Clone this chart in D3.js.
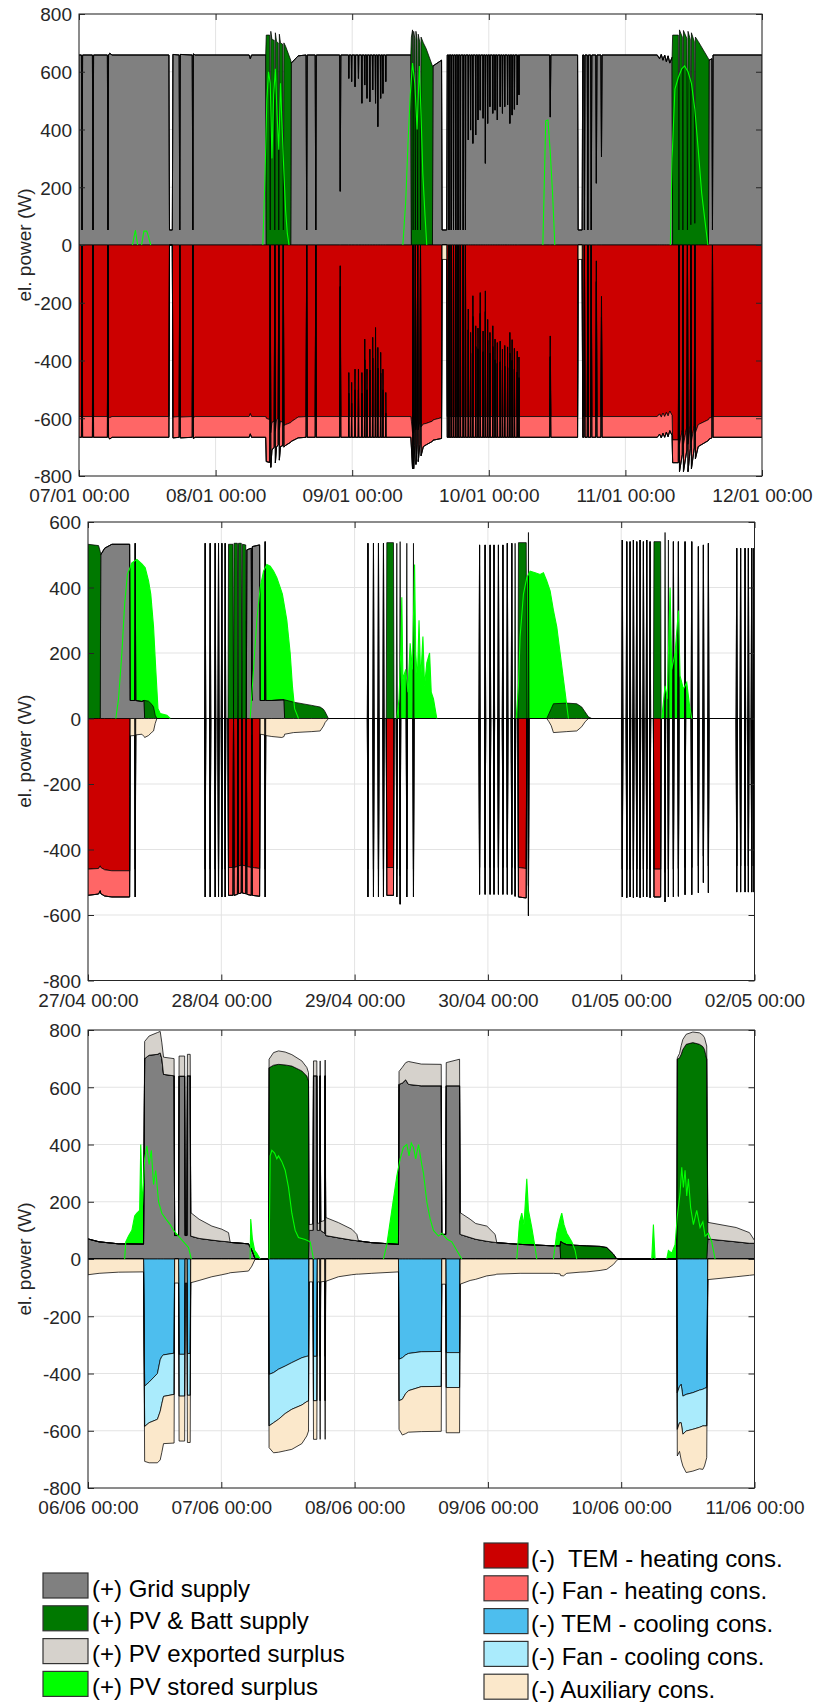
<!DOCTYPE html>
<html>
<head>
<meta charset="utf-8">
<script src="https://cdn.jsdelivr.net/npm/d3@7"></script>
<style>
  body { margin: 0; background: #fff; }
  text { font-family: "Liberation Sans", Arial, sans-serif; }
</style>
</head>
<body>
<svg id="chart" width="814" height="1702"></svg>
<script>
// ---- data (hours from first tick, watts) ----
const dayTicks = [0, 24, 48, 72, 96, 120];
const p1XLabels = ['07/01 00:00', '08/01 00:00', '09/01 00:00', '10/01 00:00', '11/01 00:00', '12/01 00:00'];
const p2XLabels = ['27/04 00:00', '28/04 00:00', '29/04 00:00', '30/04 00:00', '01/05 00:00', '02/05 00:00'];
const p3XLabels = ['06/06 00:00', '07/06 00:00', '08/06 00:00', '09/06 00:00', '10/06 00:00', '11/06 00:00'];
const p1YTicks = [-800, -600, -400, -200, 0, 200, 400, 600, 800];
const p2YTicks = [-800, -600, -400, -200, 0, 200, 400, 600];
const p3YTicks = [-800, -600, -400, -200, 0, 200, 400, 600, 800];

// January: [hour, grid, pvBatt, temHeat, fanHeat, aux]
const p1Keys = ['grid', 'pvb', 'temH', 'fanH', 'aux'];
const p1Rows = [
  [0,658,0,594,72,0],
  [0.43,658,0,594,72,0],[0.53,52,0,0,0,0],[0.63,658,0,594,72,0],
  [2.36,658,0,594,72,0],[2.46,52,0,0,0,0],[2.56,658,0,594,72,0],
  [4.99,658,0,594,72,0],[5.09,52,0,0,0,0],[5.19,658,0,594,72,0],
  [5.4,664,0,598,74,0],[5.8,658,0,594,72,0],
  [15.8,658,0,594,72,0],[15.9,52,0,0,0,0],[16.4,52,0,0,0,0],[16.5,660,0,596,72,0],
  [17.6,658,0,594,72,0],[17.7,52,0,0,0,0],[17.8,660,0,596,72,0],
  [19.9,658,0,594,72,0],[20.0,52,0,0,0,0],[20.1,662,0,598,72,0],[20.4,658,0,594,72,0],
  [29.9,658,0,594,72,0],[30.1,645,0,584,70,0],[30.3,658,0,594,72,0],
  [32.8,658,0,594,72,0],
  [32.9,0,727,600,150,0],[33.5,0,727,605,148,0],[33.6,0,52,0,0,0],
  [33.7,0,740,650,120,0],[33.9,0,712,615,95,0],[34.3,0,709,610,90,0],[34.4,0,52,0,0,0],
  [34.5,0,735,645,110,0],[34.7,0,705,605,95,0],[35.0,0,700,600,92,0],[35.1,0,52,0,0,0],
  [35.2,0,730,640,105,0],[35.4,0,700,610,88,0],[35.8,0,695,615,80,0],[35.9,0,52,0,0,0],
  [36.0,0,700,625,75,0],[36.3,0,688,622,72,0],[37.2,0,640,615,68,0],
  [37.3,630,0,612,68,0],[38.5,655,0,596,72,0],
  [39.9,658,0,594,72,0],[40.0,52,0,0,0,0],[40.1,658,0,594,72,0],
  [41.5,658,0,594,72,0],[41.6,52,0,0,0,0],[41.7,658,0,594,72,0],
  [45.8,658,0,594,72,0],[45.9,186,0,72,72,0],[46.0,658,0,594,72,0],
  [47.35,658,0,594,72,0],[47.4,577,0,442,72,0],[47.45,658,0,594,72,0],
  [47.85,658,0,594,72,0],[47.9,566,0,476,72,0],[47.95,658,0,594,72,0],
  [48.45,658,0,594,72,0],[48.5,548,0,430,72,0],[48.55,658,0,594,72,0],
  [49.05,658,0,594,72,0],[49.1,577,0,430,72,0],[49.15,658,0,594,72,0],
  [49.65,658,0,594,72,0],[49.7,491,0,442,72,0],[49.75,658,0,594,72,0],
  [50.15,658,0,594,72,0],[50.2,554,0,326,72,0],[50.25,658,0,594,72,0],
  [50.55,658,0,594,72,0],[50.6,508,0,430,72,0],[50.65,658,0,594,72,0],
  [51.05,658,0,594,72,0],[51.1,496,0,361,72,0],[51.15,658,0,594,72,0],
  [51.55,658,0,594,72,0],[51.6,537,0,320,72,0],[51.65,658,0,594,72,0],
  [52.05,658,0,594,72,0],[52.1,491,0,286,72,0],[52.15,658,0,594,72,0],
  [52.45,658,0,594,72,0],[52.5,410,0,355,72,0],[52.55,658,0,594,72,0],
  [52.95,658,0,594,72,0],[53.0,508,0,372,72,0],[53.05,658,0,594,72,0],
  [53.35,658,0,594,72,0],[53.4,525,0,430,72,0],[53.45,658,0,594,72,0],
  [53.85,658,0,594,72,0],[53.9,566,0,511,72,0],[53.95,658,0,594,72,0],
  [58.3,658,0,594,72,0],
  [58.4,0,720,610,90,0],[58.6,0,745,650,125,0],[58.7,0,52,0,0,0],
  [58.8,0,740,650,125,0],[59.0,0,715,610,85,0],[59.1,0,52,0,0,0],
  [59.2,0,740,640,120,0],[59.4,0,710,605,85,0],[59.5,0,52,0,0,0],
  [59.6,0,730,640,110,0],[59.9,0,700,610,80,0],[60.0,0,52,0,0,0],
  [60.1,0,720,630,100,0],[60.5,0,700,620,78,0],[61.0,0,680,618,74,0],[62.1,0,620,610,70,0],
  [62.2,620,0,606,70,0],[63.7,640,0,598,72,0],
  [63.8,52,0,0,0,50],[64.6,52,0,0,0,50],[64.7,658,0,594,72,0],
  [64.95,658,0,594,72,0],[65.0,52,0,0,0,0],[65.05,658,0,594,72,0],
  [65.35,658,0,594,72,0],[65.4,52,0,0,0,0],[65.45,658,0,594,72,0],
  [65.75,658,0,594,72,0],[65.8,52,0,0,0,0],[65.85,658,0,594,72,0],
  [66.15,658,0,594,72,0],[66.2,52,0,0,0,0],[66.25,658,0,594,72,0],
  [66.55,658,0,594,72,0],[66.6,52,0,0,0,0],[66.65,658,0,594,72,0],
  [66.95,658,0,594,72,0],[67.0,52,0,0,0,0],[67.05,658,0,594,72,0],
  [67.45,658,0,594,72,0],[67.5,52,0,0,0,0],[67.55,658,0,594,72,0],
  [67.85,658,0,594,72,0],[67.9,52,0,0,0,0],[67.95,658,0,594,72,0],
  [68.35,658,0,594,72,0],[68.4,364,0,222,72,0],[68.45,658,0,594,72,0],
  [68.75,658,0,594,72,0],[68.8,398,0,303,72,0],[68.85,658,0,594,72,0],
  [69.15,658,0,594,72,0],[69.2,352,0,176,72,0],[69.25,658,0,594,72,0],
  [69.65,658,0,594,72,0],[69.7,381,0,280,72,0],[69.75,658,0,594,72,0],
  [70.05,658,0,594,72,0],[70.1,433,0,288,72,0],[70.15,658,0,594,72,0],
  [70.45,658,0,594,72,0],[70.5,467,0,165,72,0],[70.55,658,0,594,72,0],
  [70.95,658,0,594,72,0],[71.0,439,0,298,72,0],[71.05,658,0,594,72,0],
  [71.35,658,0,594,72,0],[71.4,283,0,159,72,0],[71.45,658,0,594,72,0],
  [71.75,658,0,594,72,0],[71.8,421,0,258,72,0],[71.85,658,0,594,72,0],
  [72.15,658,0,594,72,0],[72.2,479,0,303,72,0],[72.25,658,0,594,72,0],
  [72.65,658,0,594,72,0],[72.7,456,0,280,72,0],[72.75,658,0,594,72,0],
  [73.05,658,0,594,72,0],[73.1,467,0,326,72,0],[73.15,658,0,594,72,0],
  [73.45,658,0,594,72,0],[73.5,433,0,338,72,0],[73.55,658,0,594,72,0],
  [73.95,658,0,594,72,0],[74.0,479,0,333,72,0],[74.05,658,0,594,72,0],
  [74.35,658,0,594,72,0],[74.4,456,0,361,72,0],[74.45,658,0,594,72,0],
  [74.75,658,0,594,72,0],[74.8,479,0,348,72,0],[74.85,658,0,594,72,0],
  [75.25,658,0,594,72,0],[75.3,485,0,353,72,0],[75.35,658,0,594,72,0],
  [75.65,658,0,594,72,0],[75.7,421,0,303,72,0],[75.75,658,0,594,72,0],
  [76.05,658,0,594,72,0],[76.1,450,0,328,72,0],[76.15,658,0,594,72,0],
  [76.45,658,0,594,72,0],[76.5,470,0,358,72,0],[76.55,658,0,594,72,0],
  [76.95,658,0,594,72,0],[77.0,485,0,368,72,0],[77.05,658,0,594,72,0],
  [77.25,658,0,594,72,0],[77.3,520,0,388,72,0],[77.35,658,0,594,72,0],
  [82.7,658,0,594,72,0],[82.8,443,0,315,72,0],[82.9,658,0,594,72,0],
  [87.6,658,0,594,72,0],[87.7,52,0,0,0,50],[88.4,52,0,0,0,50],[88.5,658,0,594,72,0],
  [88.7,658,0,594,72,0],[88.8,52,0,0,0,0],[88.9,658,0,594,72,0],
  [89.3,658,0,594,72,0],[89.4,52,0,0,0,0],[89.5,658,0,594,72,0],
  [89.9,658,0,594,72,0],[90.0,52,0,0,0,0],[90.1,658,0,594,72,0],
  [90.8,658,0,594,72,0],[90.9,214,0,55,72,0],[91.0,658,0,594,72,0],
  [91.7,658,0,594,72,0],[91.8,306,0,178,72,0],[91.9,658,0,594,72,0],
  [101.6,658,0,594,72,0],[102.0,645,0,585,70,0],[102.3,660,0,596,72,0],[102.6,640,0,582,70,0],
  [102.9,658,0,594,72,0],[103.2,635,0,580,68,0],[103.5,655,0,592,72,0],[103.8,630,0,575,68,0],
  [104.2,650,0,590,70,0],
  [104.3,0,727,675,79,0],[105.3,0,727,675,79,0],[105.4,0,52,0,0,0],
  [105.5,0,745,690,95,0],[106.0,0,720,640,85,0],[106.1,0,52,0,0,0],
  [106.2,0,743,690,95,0],[106.8,0,715,630,80,0],[106.9,0,52,0,0,0],
  [107.0,0,740,690,95,0],[107.4,0,712,625,80,0],[107.5,0,70,0,0,0],
  [107.6,0,735,680,95,0],[108.1,0,705,625,78,0],[108.2,0,75,0,0,0],
  [108.3,0,720,650,90,0],[108.8,0,705,622,76,0],[110.6,0,645,605,72,0],
  [110.7,640,0,600,72,0],[111.2,645,0,596,72,0],[111.3,52,0,0,0,0],[111.4,658,0,594,72,0],
  [120,658,0,594,72,0]
];
// PV stored surplus, January: runs of [hour, W]
const p1Stored = [
  [[9.4,0],[9.9,52],[10.3,0]],
  [[11.0,0],[11.4,48],[11.9,48],[12.2,30],[12.6,0]],
  [[32.3,0],[32.7,250],[33.0,500],[33.3,600],[33.6,560],[33.9,300],[34.2,520],[34.5,610],[34.8,450],
   [35.1,330],[35.4,560],[35.7,400],[36.0,250],[36.3,120],[36.6,40],[36.9,0]],
  [[56.9,0],[57.4,150],[57.8,350],[58.2,520],[58.6,630],[59.0,560],[59.4,400],[59.8,620],[60.1,450],
   [60.4,250],[60.8,100],[61.1,0]],
  [[81.5,0],[82.0,430],[82.4,433],[82.8,320],[83.2,180],[83.6,0]],
  [[103.9,0],[104.2,300],[104.7,540],[105.3,580],[105.9,610],[106.4,620],[107.0,600],[107.6,560],
   [108.2,470],[108.8,330],[109.4,180],[110.0,80],[110.5,0]]
];

// April/May: [hour, grid, pvBatt, temHeat, fanHeat, aux]
const p2Keys = ['grid', 'pvb', 'temH', 'fanH', 'aux'];
const p2Rows = [
  [0,0,532,460,80,0],[1.9,0,528,458,78,0],[2.2,0,510,450,76,0],
  [2.3,500,0,455,80,0],[3.0,520,0,462,80,0],[4.3,532,0,465,80,0],[7.5,532,0,465,80,0],
  [7.6,55,0,0,0,53],[8.4,55,0,0,0,52],[8.5,535,0,460,85,0],[8.6,55,0,0,0,50],
  [9.7,52,0,0,0,48],[10.1,55,0,0,0,55],
  [10.2,0,55,0,0,58],[10.9,0,53,0,0,52],[11.5,0,43,0,0,42],[11.8,0,35,0,0,38],
  [12.1,0,10,0,0,15],[12.4,0,0,0,0,0],
  [21.0,0,0,0,0,0],[21.1,535,0,460,85,0],[21.2,0,0,0,0,0],
  [21.9,0,0,0,0,0],[22.0,535,0,460,85,0],[22.1,0,0,0,0,0],
  [22.8,0,0,0,0,0],[22.9,535,0,460,85,0],[23.0,0,0,0,0,0],
  [23.4,0,0,0,0,0],[23.5,535,0,460,85,0],[23.6,0,0,0,0,0],
  [24.0,0,0,0,0,0],[24.1,535,0,460,85,0],[24.2,0,0,0,0,0],
  [24.6,0,0,0,0,0],[24.7,535,0,460,85,0],[24.8,0,0,0,0,0],
  [25.2,0,0,0,0,0],
  [25.3,0,532,455,85,0],[26.1,0,532,455,85,0],[26.2,0,0,0,0,0],
  [26.3,0,535,455,85,0],[26.9,0,535,452,85,0],[27.0,0,0,0,0,0],
  [27.1,0,535,450,85,0],[27.6,0,535,448,85,0],[27.7,0,0,0,0,0],
  [27.8,0,532,448,85,0],[28.4,0,530,450,85,0],[28.5,0,0,0,0,0],
  [28.6,515,0,452,85,0],[29.4,520,0,455,85,0],[29.5,55,0,0,0,50],
  [29.6,525,0,455,85,0],[30.9,530,0,458,85,0],
  [31.0,55,0,0,0,48],[31.8,55,0,0,0,50],[31.9,540,0,460,85,0],[32.0,55,0,0,0,52],
  [33.1,55,0,0,0,55],[34.9,57,0,0,0,58],[35.3,57,0,0,0,55],
  [35.4,0,57,0,0,48],[37.0,0,50,0,0,43],[40.3,0,40,0,0,40],[41.8,0,35,0,0,38],
  [42.4,0,28,0,0,23],[42.7,0,20,0,0,12],[43.2,0,3,0,0,2],[43.3,0,0,0,0,0],
  [50.3,0,0,0,0,0],[50.4,535,0,460,85,0],[50.5,0,0,0,0,0],
  [51.3,0,0,0,0,0],[51.4,535,0,460,85,0],[51.5,0,0,0,0,0],
  [52.2,0,0,0,0,0],[52.3,535,0,460,85,0],[52.4,0,0,0,0,0],
  [53.1,0,0,0,0,0],[53.2,535,0,460,85,0],[53.3,0,0,0,0,0],
  [53.7,0,0,0,0,0],[53.8,0,537,455,85,0],[55.0,0,537,455,85,0],[55.1,0,0,0,0,0],
  [55.5,0,0,0,0,0],[55.6,0,535,460,85,0],[55.7,0,0,0,0,0],
  [56.1,0,0,0,0,0],[56.2,0,540,480,87,0],[56.3,0,0,0,0,0],
  [57.3,0,0,0,0,0],[57.4,0,535,460,85,0],[57.5,0,0,0,0,0],
  [58.5,0,0,0,0,0],[58.6,0,535,460,85,0],[58.7,0,0,0,0,0],
  [70.4,0,0,0,0,0],[70.5,530,0,455,82,0],[70.6,0,0,0,0,0],
  [71.4,0,0,0,0,0],[71.5,530,0,455,82,0],[71.6,0,0,0,0,0],
  [72.3,0,0,0,0,0],[72.4,530,0,455,82,0],[72.5,0,0,0,0,0],
  [73.0,0,0,0,0,0],[73.1,530,0,455,82,0],[73.2,0,0,0,0,0],
  [73.8,0,0,0,0,0],[73.9,530,0,455,82,0],[74.0,0,0,0,0,0],
  [74.6,0,0,0,0,0],[74.7,530,0,455,82,0],[74.8,0,0,0,0,0],
  [75.4,0,0,0,0,0],[75.5,535,0,455,82,0],[75.6,0,0,0,0,0],
  [76.2,0,0,0,0,0],[76.3,535,0,455,82,0],[76.4,0,0,0,0,0],
  [76.8,0,0,0,0,0],[76.9,0,535,458,85,0],[77.0,0,0,0,0,0],
  [77.4,0,0,0,0,0],[77.5,0,537,455,90,0],[78.9,0,537,458,90,0],[79.0,0,0,0,0,0],
  [79.2,0,0,0,0,0],[79.3,0,568,510,92,0],[79.4,0,0,0,0,0],
  [82.6,0,0,0,0,0],[83.0,0,15,0,0,10],[83.4,0,30,0,0,22],[83.8,0,45,0,0,43],[86.2,0,47,0,0,40],
  [88.0,0,45,0,0,38],[88.9,0,35,0,0,25],[89.5,0,20,0,0,10],[90.1,0,5,0,0,0],[90.7,0,0,0,0,0],
  [96.1,0,0,0,0,0],[96.2,545,0,460,85,0],[96.3,0,0,0,0,0],
  [96.9,0,0,0,0,0],[97.0,540,0,462,85,0],[97.1,0,0,0,0,0],
  [97.5,0,0,0,0,0],[97.6,540,0,460,85,0],[97.7,0,0,0,0,0],
  [98.1,0,0,0,0,0],[98.2,545,0,462,85,0],[98.3,0,0,0,0,0],
  [98.7,0,0,0,0,0],[98.8,540,0,460,85,0],[98.9,0,0,0,0,0],
  [99.3,0,0,0,0,0],[99.4,545,0,462,85,0],[99.5,0,0,0,0,0],
  [99.9,0,0,0,0,0],[100.0,540,0,460,85,0],[100.1,0,0,0,0,0],
  [100.5,0,0,0,0,0],[100.6,545,0,460,85,0],[100.7,0,0,0,0,0],
  [101.1,0,0,0,0,0],[101.2,540,0,462,85,0],[101.3,0,0,0,0,0],
  [101.8,0,0,0,0,0],[101.9,0,540,460,85,0],[103.1,0,540,460,85,0],[103.2,0,0,0,0,0],
  [103.8,0,0,0,0,0],[103.9,0,568,470,90,0],[104.0,0,0,0,0,0],
  [104.4,0,0,0,0,0],[104.5,0,545,460,85,0],[104.6,0,0,0,0,0],
  [105.3,0,0,0,0,0],[105.4,540,0,460,85,0],[105.5,0,0,0,0,0],
  [106.2,0,0,0,0,0],[106.3,540,0,458,85,0],[106.4,0,0,0,0,0],
  [107.4,0,0,0,0,0],[107.5,540,0,455,83,0],[107.6,0,0,0,0,0],
  [108.6,0,0,0,0,0],[108.7,540,0,455,83,0],[108.8,0,0,0,0,0],
  [109.8,0,0,0,0,0],[109.9,525,0,450,82,0],[110.0,0,0,0,0,0],
  [110.7,0,0,0,0,0],[110.8,530,0,420,81,0],[110.9,0,0,0,0,0],
  [111.6,0,0,0,0,0],[111.7,535,0,450,82,0],[111.8,0,0,0,0,0],
  [116.7,0,0,0,0,0],[116.8,520,0,450,80,0],[116.9,0,0,0,0,0],
  [117.4,0,0,0,0,0],[117.5,520,0,450,80,0],[117.6,0,0,0,0,0],
  [118.2,0,0,0,0,0],[118.3,520,0,450,80,0],[118.4,0,0,0,0,0],
  [118.8,0,0,0,0,0],[118.9,520,0,450,80,0],[119.0,0,0,0,0,0],
  [119.4,0,0,0,0,0],[119.5,520,0,450,80,0],[119.6,0,0,0,0,0],
  [119.8,0,0,0,0,0],[119.9,520,0,450,80,0],[120,0,0,0,0,0]
];
const p2Stored = [
  [[5.0,0],[5.5,60],[6.1,200],[6.6,350],[7.1,440],[7.9,475],[8.8,486],[9.7,472],[10.3,460],[10.9,420],
   [11.3,380],[11.8,280],[12.2,150],[12.6,30],[13.0,15],[14.2,10],[14.8,0]],
  [[29.2,0],[29.8,150],[30.4,300],[31.0,400],[31.6,450],[32.2,470],[32.8,465],[33.4,450],[34.0,430],
   [34.6,400],[35.0,380],[35.4,340],[35.8,300],[36.4,200],[36.8,100],[37.2,30],[37.9,0]],
  [[55.6,0],[56.0,60],[56.3,200],[56.5,370],[56.7,120],[57.2,150],[57.6,80],[58.0,230],[58.4,150],
   [58.8,470],[59.0,200],[59.3,120],[59.6,300],[59.9,120],[60.3,250],[60.6,100],[61.0,170],[61.5,200],
   [61.8,80],[62.2,60],[62.8,0]],
  [[77.1,0],[77.5,100],[77.8,250],[78.4,380],[79.0,430],[79.6,450],[80.5,445],[81.4,440],[82.0,445],
   [82.6,420],[83.2,390],[83.8,330],[84.4,280],[85.0,200],[85.6,120],[86.2,40],[86.5,0]],
  [[103.3,0],[103.9,100],[104.3,60],[104.8,400],[105.1,150],[105.7,200],[106.3,330],[106.6,130],
   [107.2,90],[107.8,110],[108.3,40],[108.7,0]]
];

// June: [hour, grid, pvBatt, exported, temCool, fanCool, aux]
const p3Keys = ['grid', 'pvb', 'exp', 'temC', 'fanC', 'aux'];
const p3Rows = [
  [0,70,0,0,0,0,55],[2,60,0,0,0,0,50],[5.5,53,0,0,0,0,46],[10.0,52,0,0,0,0,45],
  [10.2,700,0,60,444,141,122],[11.0,712,0,67,430,142,140],[12.5,715,0,76,400,160,152],
  [13.0,720,0,75,352,180,170],[13.3,700,0,55,340,165,170],[13.6,645,0,60,335,145,165],
  [15.5,640,0,60,329,144,170],
  [15.6,82,0,0,0,0,84],[16.3,82,0,0,0,0,84],
  [16.4,639,0,70,333,146,157],[17.4,639,0,70,333,146,157],
  [17.5,82,0,0,0,0,84],[17.8,82,0,0,0,0,84],
  [17.9,640,0,75,330,146,165],[18.4,640,0,75,330,146,165],
  [18.5,80,0,82,0,0,83],[20.0,72,0,67,0,0,75],[22.3,66,0,49,0,0,62],[24.1,62,0,42,0,0,55],
  [25.3,60,0,32,0,0,50],[25.6,58,0,0,0,0,48],[28.9,53,0,0,0,0,42],[29.5,30,0,0,0,0,25],
  [30.1,0,0,0,0,0,0],[32.5,0,0,0,0,0,0],
  [32.6,0,668,30,403,180,76],[33.4,0,677,44,397,175,105],[34.3,0,680,47,385,175,115],
  [35.5,0,678,45,374,166,130],[36.7,0,674,40,362,163,140],[38.5,0,657,35,345,165,135],
  [39.4,0,639,30,340,158,120],[39.7,0,622,29,339,157,105],
  [39.8,100,0,20,0,0,80],[40.5,100,0,22,0,0,80],
  [40.6,640,0,52,340,155,135],[41.2,640,0,52,340,155,135],
  [41.3,100,0,25,0,0,80],[41.7,100,0,25,0,0,80],[41.8,640,0,52,340,155,135],
  [41.9,100,0,30,0,0,80],[42.6,90,0,45,0,0,78],[42.7,640,0,55,340,155,135],
  [42.8,82,0,63,0,0,78],[45.1,74,0,53,0,0,62],[47.5,66,0,38,0,0,55],[48.4,64,0,22,0,0,53],
  [48.7,63,0,0,0,0,53],[51.1,57,0,0,0,0,50],[55.9,51,0,0,0,0,45],
  [56.0,610,0,45,350,145,100],[56.6,615,0,55,345,145,125],[57.2,626,0,60,335,135,140],
  [57.7,610,0,80,330,130,145],[60.0,605,0,76,324,122,157],[63.6,605,0,75,323,122,157],
  [63.7,86,0,0,0,0,88],[64.4,86,0,0,0,0,88],
  [64.5,605,0,81,327,122,158],[66.9,605,0,93,327,122,158],
  [67.0,86,0,76,0,0,88],[68.8,75,0,64,0,0,75],[69.8,69,0,55,0,0,71],[71.8,62,0,53,0,0,59],
  [73.3,58,0,28,0,0,55],[73.6,57,0,0,0,0,53],[77.8,51,0,0,0,0,50],[83.8,46,0,0,0,0,50],
  [85.0,46,0,0,0,0,52],
  [85.1,0,61,0,0,0,58],[85.6,0,55,0,0,0,59],[86.2,0,50,0,0,0,50],[88.6,0,47,0,0,0,46],
  [89.8,0,46,0,0,0,45],[92.2,0,44,0,0,0,40],[93.4,0,40,0,0,0,36],[94.6,0,17,0,0,0,19],
  [95.2,0,0,0,0,0,5],[95.5,0,0,0,0,0,0],[106.0,0,0,0,0,0,0],
  [106.1,0,698,5,467,128,93],[106.5,0,703,15,445,127,100],[106.8,0,715,30,438,134,130],
  [107.1,0,732,35,479,133,111],[107.7,0,750,35,473,128,145],[108.9,0,756,37,467,128,146],
  [110.1,0,750,40,458,130,145],[110.7,0,742,40,455,128,152],[111.0,0,732,41,452,131,140],
  [111.4,0,698,46,449,134,111],
  [111.6,70,0,58,0,0,72],[116.7,60,0,50,0,0,62],[119.1,55,0,37,0,0,57],[120,55,0,10,0,0,55]
];
const p3Stored = [
  [[6.6,0],[6.8,60],[7.3,80],[7.9,100],[8.4,150],[8.8,160],[9.3,170],[9.5,400],[9.8,180],[10.2,350],
   [10.6,395],[11.0,330],[11.4,380],[11.8,260],[12.2,310],[12.7,200],[13.3,160],[14.0,140],[14.8,120],
   [15.4,100],[16.3,80],[17.2,60],[18.1,40],[18.6,0]],
  [[29.2,0],[29.3,140],[29.6,70],[30.0,30],[30.4,20],[31.0,0]],
  [[32.6,0],[32.8,360],[33.1,380],[33.6,370],[34.0,350],[34.3,360],[34.9,340],[35.5,310],[36.1,250],
   [36.7,160],[37.3,100],[37.9,75],[39.1,68],[40.0,60],[40.6,0]],
  [[53.2,0],[53.8,50],[54.7,170],[55.6,290],[56.2,350],[56.8,390],[57.4,400],[57.8,360],[58.2,405],
   [58.6,390],[59.0,350],[59.5,400],[60.1,330],[60.4,300],[61.0,200],[61.6,140],[62.2,100],[63.1,80],
   [63.7,90],[64.6,70],[65.5,60],[66.4,30],[67.3,0]],
  [[77.2,0],[77.7,130],[78.1,160],[78.5,120],[79.0,280],[79.3,170],[79.9,110],[80.5,40],[80.8,0]],
  [[83.8,0],[84.4,90],[85.0,140],[85.3,160],[85.7,120],[86.2,90],[87.1,60],[87.7,30],[88.0,0]],
  [[101.5,0],[101.8,120],[102.1,0]],
  [[104.2,0],[104.5,30],[105.1,20],[105.7,50],[106.1,150],[106.6,230],[106.9,320],[107.2,250],
   [107.5,310],[107.8,220],[108.1,280],[108.5,180],[109.0,120],[109.6,170],[110.2,110],[110.7,130],
   [111.1,80],[111.7,90],[112.3,60],[112.9,0]]
];

const legendLeft = ['(+) Grid supply', '(+) PV & Batt supply', '(+) PV exported surplus', '(+) PV stored surplus'];
const legendLeftKeys = ['grid', 'pvb', 'exp', 'stored'];
const legendRight = ['(-)  TEM - heating cons.', '(-) Fan - heating cons.', '(-) TEM - cooling cons.', '(-) Fan - cooling cons.', '(-) Auxiliary cons.'];
const legendRightKeys = ['temH', 'fanH', 'temC', 'fanC', 'aux'];

const colors = {
  grid: '#808080', pvb: '#007800', exp: '#d6d2cc', stored: '#00ff00',
  temH: '#cc0000', fanH: '#ff6666', temC: '#4dbeee', fanC: '#aaebfc', aux: '#fbe8cb'
};
const posOrder = ['grid', 'pvb', 'exp'];
const negOrder = ['temH', 'fanH', 'temC', 'fanC', 'aux'];

const svg = d3.select('#chart');
const FONT = '"Liberation Sans", Arial, sans-serif';

function drawPanel(p) {
  const x = d3.scaleLinear().domain([0, 120]).range([p.left, p.right]);
  const y = d3.scaleLinear()
    .domain([p.yTicks[0], p.yTicks[p.yTicks.length - 1]])
    .range([p.bottom, p.top]);
  const g = svg.append('g');

  // grid lines
  g.append('g').selectAll('line').data(p.yTicks).join('line')
    .attr('x1', p.left).attr('x2', p.right)
    .attr('y1', d => y(d)).attr('y2', d => y(d))
    .attr('stroke', '#e3e3e3').attr('stroke-width', 1);
  g.append('g').selectAll('line').data(dayTicks).join('line')
    .attr('x1', d => x(d)).attr('x2', d => x(d))
    .attr('y1', p.top).attr('y2', p.bottom)
    .attr('stroke', '#e3e3e3').attr('stroke-width', 1);

  svg.append('clipPath').attr('id', 'clip' + p.id)
    .append('rect')
    .attr('x', p.left).attr('y', p.top)
    .attr('width', p.right - p.left).attr('height', p.bottom - p.top);
  const plot = g.append('g').attr('clip-path', `url(#clip${p.id})`);

  const data = p.rows.map(r => {
    const o = { h: r[0] };
    p.keys.forEach((k, i) => o[k] = r[i + 1]);
    return o;
  });

  // stored surplus fill, behind the stacks
  const sArea = d3.area().x(d => x(d[0])).y0(y(0)).y1(d => y(d[1]));
  plot.append('g').selectAll('path').data(p.stored).join('path')
    .attr('d', sArea).attr('fill', colors.stored);

  const posKeys = posOrder.filter(k => p.keys.includes(k));
  const negKeys = negOrder.filter(k => p.keys.includes(k));
  const pos = d3.stack().keys(posKeys)(data);
  const neg = d3.stack().keys(negKeys).value((d, k) => -d[k])(data);

  const area = d3.area()
    .x(d => x(d.data.h))
    .y0(d => y(d[0]))
    .y1(d => y(d[1]));

  plot.append('g').selectAll('path').data(pos.concat(neg)).join('path')
    .attr('d', area)
    .attr('fill', d => colors[d.key])
    .attr('stroke', '#000')
    .attr('stroke-width', 0.75)
    .attr('stroke-linejoin', 'round');

  // stored surplus line on top
  const sLine = d3.line().x(d => x(d[0])).y(d => y(d[1]));
  plot.append('g').selectAll('path').data(p.stored).join('path')
    .attr('d', sLine).attr('fill', 'none')
    .attr('stroke', colors.stored).attr('stroke-width', 1.1);

  // axes
  const axisColor = '#262626';
  const yAxis = g.append('g')
    .attr('transform', `translate(${p.left},0)`)
    .call(d3.axisLeft(y).tickValues(p.yTicks).tickFormat(d => String(d))
      .tickSizeInner(-6).tickSizeOuter(0).tickPadding(7));
  const yAxisR = g.append('g')
    .attr('transform', `translate(${p.right},0)`)
    .call(d3.axisRight(y).tickValues(p.yTicks).tickFormat('')
      .tickSizeInner(-6).tickSizeOuter(0));
  const xAxis = g.append('g')
    .attr('transform', `translate(0,${p.bottom})`)
    .call(d3.axisBottom(x).tickValues(dayTicks).tickFormat((d, i) => p.xLabels[i])
      .tickSizeInner(-6).tickSizeOuter(0).tickPadding(13));
  const xAxisT = g.append('g')
    .attr('transform', `translate(0,${p.top})`)
    .call(d3.axisTop(x).tickValues(dayTicks).tickFormat('')
      .tickSizeInner(-6).tickSizeOuter(0));
  [yAxis, yAxisR, xAxis, xAxisT].forEach(a => {
    a.select('.domain').remove();
    a.attr('color', axisColor).attr('font-size', 19).attr('font-family', FONT);
  });
  yAxis.selectAll('text').attr('dy', '0.36em');

  g.append('rect')
    .attr('x', p.left).attr('y', p.top)
    .attr('width', p.right - p.left).attr('height', p.bottom - p.top)
    .attr('fill', 'none').attr('stroke', axisColor).attr('stroke-width', 1);

  g.append('text')
    .attr('transform', `translate(31,${(p.top + p.bottom) / 2}) rotate(-90)`)
    .attr('text-anchor', 'middle')
    .attr('font-size', 19)
    .attr('fill', axisColor)
    .text('el. power (W)');
}

drawPanel({ id: 1, left: 79, right: 762, top: 14, bottom: 476,
  yTicks: p1YTicks, xLabels: p1XLabels, keys: p1Keys, rows: p1Rows, stored: p1Stored });
drawPanel({ id: 2, left: 88, right: 754.5, top: 522, bottom: 980.5,
  yTicks: p2YTicks, xLabels: p2XLabels, keys: p2Keys, rows: p2Rows, stored: p2Stored });
drawPanel({ id: 3, left: 88, right: 754.5, top: 1030, bottom: 1488,
  yTicks: p3YTicks, xLabels: p3XLabels, keys: p3Keys, rows: p3Rows, stored: p3Stored });

// legend
const legend = svg.append('g').attr('font-size', 24).attr('font-family', FONT);
const rowStep = 32.8;
const left = legend.append('g').selectAll('g').data(legendLeft).join('g')
  .attr('transform', (d, i) => `translate(43,${1573 + i * rowStep})`);
left.append('rect').attr('width', 45).attr('height', 25)
  .attr('fill', (d, i) => colors[legendLeftKeys[i]])
  .attr('stroke', '#333').attr('stroke-width', 1.2);
left.append('text').attr('x', 49).attr('y', 23.5).text(d => d);

const right = legend.append('g').selectAll('g').data(legendRight).join('g')
  .attr('transform', (d, i) => `translate(484,${1543 + i * rowStep})`);
right.append('rect').attr('width', 44).attr('height', 25)
  .attr('fill', (d, i) => colors[legendRightKeys[i]])
  .attr('stroke', '#333').attr('stroke-width', 1.2);
right.append('text').attr('x', 47).attr('y', 23.5)
  .style('white-space', 'pre').text(d => d);
</script>
</body>
</html>
